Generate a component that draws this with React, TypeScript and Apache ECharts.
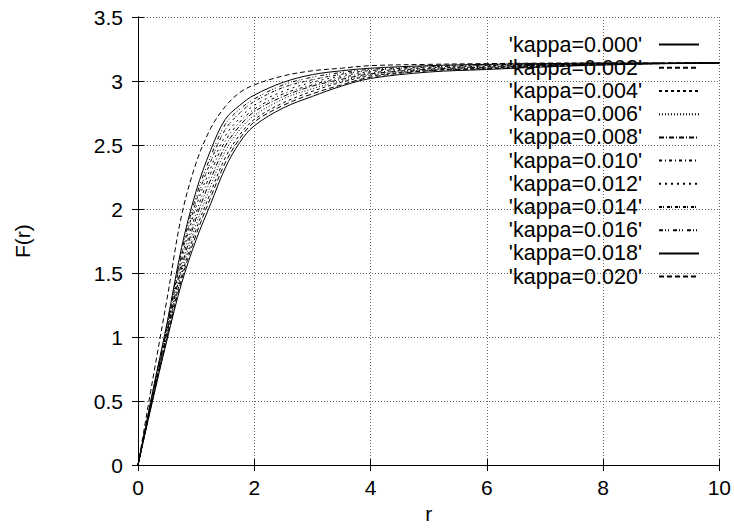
import React, { useEffect, useRef } from "react";
import * as echarts from "echarts";

const R = [0, 0.25, 0.5, 0.75, 1, 1.25, 1.5, 1.75, 2, 2.5, 3, 3.5, 4, 5, 6, 7, 8, 9, 10];

const K000 = [0, 0.5, 0.98, 1.42, 1.76, 2.04, 2.32, 2.52, 2.65, 2.79, 2.88, 2.96, 3.02, 3.07, 3.09, 3.11, 3.125, 3.135, 3.14];
const K002 = [0, 0.51, 0.99, 1.45, 1.8, 2.09, 2.36, 2.55, 2.68, 2.81, 2.9, 2.97, 3.03, 3.08, 3.095, 3.113, 3.127, 3.136, 3.14];
const K004 = [0, 0.52, 1.01, 1.48, 1.84, 2.13, 2.4, 2.58, 2.7, 2.83, 2.92, 2.99, 3.04, 3.082, 3.1, 3.116, 3.128, 3.136, 3.14];
const K006 = [0, 0.52, 1.02, 1.51, 1.88, 2.18, 2.45, 2.62, 2.73, 2.86, 2.94, 3.0, 3.047, 3.087, 3.103, 3.118, 3.13, 3.137, 3.141];
const K008 = [0, 0.53, 1.04, 1.54, 1.93, 2.23, 2.49, 2.65, 2.76, 2.88, 2.96, 3.013, 3.056, 3.092, 3.108, 3.121, 3.132, 3.137, 3.141];
const K010 = [0, 0.54, 1.05, 1.58, 1.97, 2.28, 2.53, 2.68, 2.78, 2.9, 2.97, 3.027, 3.064, 3.098, 3.112, 3.124, 3.133, 3.138, 3.141];
const K012 = [0, 0.55, 1.07, 1.61, 2.02, 2.32, 2.57, 2.71, 2.81, 2.92, 2.99, 3.04, 3.073, 3.103, 3.117, 3.127, 3.135, 3.138, 3.141];
const K014 = [0, 0.55, 1.08, 1.64, 2.06, 2.37, 2.62, 2.75, 2.84, 2.95, 3.01, 3.053, 3.082, 3.109, 3.121, 3.129, 3.137, 3.139, 3.142];
const K016 = [0, 0.56, 1.1, 1.67, 2.1, 2.41, 2.66, 2.78, 2.86, 2.97, 3.03, 3.067, 3.091, 3.114, 3.126, 3.132, 3.138, 3.14, 3.142];
const K018 = [0, 0.57, 1.11, 1.7, 2.14, 2.46, 2.7, 2.81, 2.89, 2.99, 3.05, 3.08, 3.1, 3.12, 3.13, 3.135, 3.14, 3.14, 3.142];
const K020 = [0, 0.66, 1.3, 1.95, 2.36, 2.63, 2.8, 2.91, 2.97, 3.04, 3.08, 3.1, 3.12, 3.13, 3.136, 3.14, 3.141, 3.141, 3.142];

const NAMES = [
  "'kappa=0.000'", "'kappa=0.002'", "'kappa=0.004'", "'kappa=0.006'",
  "'kappa=0.008'", "'kappa=0.010'", "'kappa=0.012'", "'kappa=0.014'",
  "'kappa=0.016'", "'kappa=0.018'", "'kappa=0.020'",
];
const VALUES = [K000, K002, K004, K006, K008, K010, K012, K014, K016, K018, K020];

const DASHES: (number[] | "solid")[] = [
  "solid",
  [5, 3],
  [3, 3],
  [1, 2],
  [5, 2, 1, 2],
  [3, 3, 1, 3],
  [2, 4],
  [3, 1, 1, 3],
  [4, 2, 1, 2, 1, 4],
  "solid",
  [5, 3],
];

const FONT = "'Liberation Sans', Arial, Helvetica, sans-serif";

export default function App() {
  const ref = useRef<HTMLDivElement>(null);
  useEffect(() => {
    if (!ref.current) return;
    const chart = echarts.init(ref.current, undefined, { renderer: "svg" });
    const axisLine = { show: true, lineStyle: { color: "#000", width: 1 } };
    const tick = { show: true, inside: true, length: 6, lineStyle: { color: "#000", width: 1 } };
    const grid = { show: true, lineStyle: { color: "#666", width: 1, type: [1, 2] as number[] } };
    const series = NAMES.map((name, i) => ({
      name,
      type: "line" as const,
      xAxisIndex: 0,
      yAxisIndex: 0,
      data: R.map((r, j) => [r, VALUES[i][j]]),
      showSymbol: false,
      symbol: "none",
      smooth: 0.35,
      lineStyle: { color: "#000", width: 1, type: DASHES[i] },
      itemStyle: { color: "#000" },
      z: 3,
    }));
    chart.setOption({
      animation: false,
      backgroundColor: "#fff",
      textStyle: { fontFamily: FONT },
      grid: { left: 138, right: 12, top: 17, bottom: 55, containLabel: false },
      legend: {
        orient: "vertical",
        right: 34,
        top: 33,
        padding: 0,
        align: "right",
        itemWidth: 40,
        itemHeight: 10,
        itemGap: 0,
        selectedMode: false,
        itemStyle: { color: "transparent", borderWidth: 0, opacity: 0 },
        textStyle: { fontSize: 21.5, lineHeight: 23.2, color: "#000", fontFamily: FONT, padding: [0, 12, 0, 0] },
        data: NAMES,
        z: 5,
      },
      xAxis: [
        {
          type: "value", min: 0, max: 10, interval: 2, position: "bottom",
          name: "r", nameLocation: "middle", nameGap: 37,
          nameTextStyle: { fontSize: 21, color: "#000", fontFamily: FONT },
          axisLine, axisTick: tick, splitLine: grid,
          axisLabel: { fontSize: 21, color: "#000", margin: 12, fontFamily: FONT },
        },
        {
          type: "value", min: 0, max: 10, interval: 2, position: "top",
          axisLine, axisTick: tick, splitLine: { show: false }, axisLabel: { show: false },
        },
      ],
      yAxis: [
        {
          type: "value", min: 0, max: 3.5, interval: 0.5, position: "left",
          name: "F(r)", nameLocation: "middle", nameGap: 105, nameRotate: 90,
          nameTextStyle: { fontSize: 21, color: "#000", fontFamily: FONT },
          axisLine, axisTick: tick, splitLine: grid,
          axisLabel: { fontSize: 21, color: "#000", margin: 15, fontFamily: FONT },
        },
        {
          type: "value", min: 0, max: 3.5, interval: 0.5, position: "right",
          axisLine, axisTick: tick, splitLine: { show: false }, axisLabel: { show: false },
        },
      ],
      series,
    });
    return () => chart.dispose();
  }, []);
  return (
    <div
      ref={ref}
      style={{ position: "fixed", left: 0, top: 0, width: 734, height: 529, background: "#fff" }}
    />
  );
}
